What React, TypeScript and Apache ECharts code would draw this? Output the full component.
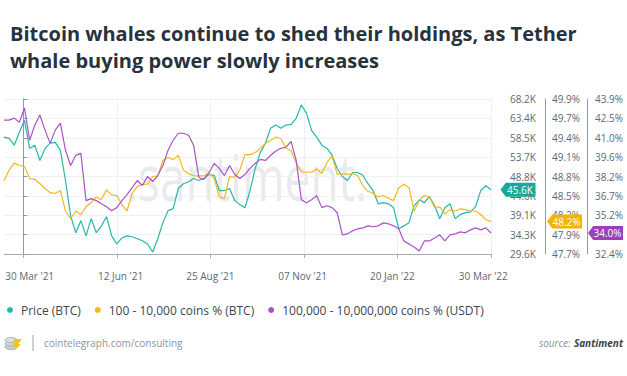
import React, { useEffect, useRef } from "react";
import * as echarts from "echarts";

// ---------- data ----------
// x positions are days since 30 Mar 2021
const FIRST_DAY = -15; // first sample (15 Mar 2021)
const STEP_DAYS = 4;
const LAST_DAY = 365; // 30 Mar 2022

const titleLines = [
  "Bitcoin whales continue to shed their holdings, as Tether",
  "whale buying power slowly increases",
];

const seriesNames = ["Price (BTC)", "100 - 10,000 coins % (BTC)", "100,000 - 10,000,000 coins % (USDT)"];

// BTC price, thousands of USD
const priceBTC = [
  58.7, 58.4, 56.7, 59.9, 62.9, 55.9, 56.7, 52.9, 55.9, 57.2,
  57.4, 55.4, 47.9, 39.1, 34.9, 37.9, 34.1, 38.4, 34.9, 36.6,
  38.9, 34.1, 32.1, 33.6, 34.1, 33.9, 33.4, 32.9, 32.1, 30.1,
  33.4, 37.4, 40.4, 40.9, 45.9, 47.1, 47.6, 48.4, 47.9, 48.4,
  49.4, 49.2, 45.4, 45.4, 45.9, 42.9, 41.9, 41.1, 45.4, 50.9,
  54.9, 57.2, 60.9, 61.7, 60.9, 61.7, 61.9, 63.4, 66.7, 64.7,
  60.4, 58.7, 56.7, 55.9, 54.2, 50.9, 48.9, 47.9, 49.9, 49.9,
  49.2, 47.1, 45.4, 42.1, 42.4, 42.1, 41.1, 35.9, 36.6, 37.4,
  41.6, 43.1, 42.4, 43.9, 41.6, 38.4, 41.1, 42.1, 38.4, 39.4,
  39.9, 40.1, 41.4, 45.4, 46.6, 45.6,
];

// 100 - 10,000 coins holders, % of BTC supply
const whalesBTC = [
  48.74, 48.89, 48.99, 48.96, 48.94, 48.77, 48.76, 48.70, 48.63, 48.57,
  48.56, 48.60, 48.31, 48.20, 48.31, 48.26, 48.37, 48.43, 48.51, 48.47,
  48.61, 48.54, 48.53, 48.40, 48.31, 48.56, 48.66, 48.69, 48.69, 48.80,
  48.81, 49.03, 49.07, 49.04, 49.10, 48.89, 48.84, 48.81, 48.81, 48.81,
  48.84, 48.77, 48.51, 48.49, 48.80, 48.79, 48.89, 49.11, 49.11, 49.14,
  49.20, 49.27, 49.31, 49.36, 49.34, 49.20, 49.17, 48.99, 48.87, 48.86,
  48.86, 48.91, 48.84, 49.00, 49.09, 48.83, 48.84, 48.83, 48.84, 48.81,
  48.67, 48.59, 48.56, 48.51, 48.53, 48.49, 48.46, 48.64, 48.69, 48.64,
  48.31, 48.46, 48.53, 48.51, 48.36, 48.37, 48.27, 48.33, 48.31, 48.34,
  48.33, 48.31, 48.31, 48.26, 48.19, 48.16,
];

// 100,000 - 10,000,000 coins holders, % of USDT supply
const whalesUSDT = [
  42.33, 42.33, 42.48, 42.18, 43.23, 40.84, 41.96, 42.71, 41.59, 40.61,
  41.59, 42.11, 40.09, 38.97, 39.72, 39.87, 36.36, 36.51, 36.36, 36.13,
  35.91, 35.61, 35.84, 36.36, 36.81, 37.33, 37.85, 37.48, 38.15, 37.78,
  38.22, 38.97, 40.09, 40.84, 41.36, 41.36, 41.21, 40.46, 38.08, 37.93,
  38.45, 39.12, 38.75, 38.22, 38.97, 38.30, 38.00, 38.30, 38.75, 39.12,
  39.42, 39.34, 39.72, 40.02, 40.24, 40.32, 40.76, 39.34, 36.43, 36.21,
  36.43, 36.73, 35.84, 35.98, 35.84, 35.46, 33.82, 33.89, 34.12, 34.27,
  34.34, 34.49, 34.42, 34.49, 34.71, 34.64, 34.49, 34.27, 33.37, 33.15,
  32.92, 32.62, 33.37, 33.37, 33.59, 33.82, 33.37, 33.82, 33.89, 34.04,
  33.97, 34.19, 34.34, 34.19, 34.34, 33.96,
];

// x axis
const xTickDays = [0, 73, 146, 219, 292, 365];
const xLabelDays = [5, 76, 146, 218, 288, 359];
const xTickLabels = ["30 Mar '21", "12 Jun '21", "25 Aug '21", "07 Nov '21", "20 Jan '22", "30 Mar '22"];

// y axes (bottom to top)
const priceRange = [29.6, 68.2];
const priceTickLabels = ["29.6K", "34.3K", "39.1K", "44.0K", "48.8K", "53.7K", "58.5K", "63.4K", "68.2K"];
const btcRange = [47.7, 49.9];
const btcTickLabels = ["47.7%", "47.9%", "48.2%", "48.5%", "48.8%", "49.1%", "49.4%", "49.7%", "49.9%"];
const usdtRange = [32.4, 43.9];
const usdtTickLabels = ["32.4%", "33.8%", "35.2%", "36.7%", "38.2%", "39.6%", "41.0%", "42.5%", "43.9%"];

// ---------- styling ----------
const TEAL = "#22b8aa";
const YELLOW = "#f5b821";
const PURPLE = "#ab52c9";
const TEAL_BADGE = "#17a99b";
const YELLOW_BADGE = "#f4b400";
const PURPLE_BADGE = "#9c3fbd";
const AXIS_LINE = "#8e9ba7";
const LABEL = "#5c6873";
const GRID = "#eef0f3";
const FONT = "Open Sans";

const sampleDay = (i: number) => FIRST_DAY + i * STEP_DAYS;

function ticksFor(range: number[], n: number) {
  const out: number[] = [];
  for (let k = 0; k < n; k++) {
    out.push(k === n - 1 ? range[1] : range[0] + (k * (range[1] - range[0])) / (n - 1));
  }
  return out;
}

function labelFor(range: number[], labels: string[]) {
  return (v: number) => {
    const idx = Math.round(((v - range[0]) / (range[1] - range[0])) * (labels.length - 1));
    return labels[idx] ?? "";
  };
}

const BADGE_PATH = "path://M0,7 L6,0 L40,0 L40,14 L6,14 Z";

function makeYAxis(range: number[], labels: string[], offset: number, margin: number, showTick: boolean, split: boolean) {
  const ticks = ticksFor(range, labels.length);
  return {
    type: "value",
    position: "right",
    min: range[0],
    max: range[1],
    offset,
    axisLine: { show: true, lineStyle: { color: AXIS_LINE, width: 1 } },
    axisTick: { show: showTick, customValues: ticks, length: 4, inside: false, lineStyle: { color: AXIS_LINE } },
    axisLabel: {
      show: true,
      customValues: ticks,
      formatter: labelFor(range, labels),
      margin,
      color: LABEL,
      fontSize: 10,
      fontFamily: FONT,
    },
    splitLine: { show: split, lineStyle: { color: GRID, width: 1 } },
  };
}

function lineSeries(name: string, values: number[], yAxisIndex: number, color: string, badgeColor: string, badgeOffset: number, suffix: string) {
  const last = values[values.length - 1];
  return {
    type: "line",
    name,
    yAxisIndex,
    data: values.map((v, i) => [sampleDay(i), v]),
    showSymbol: false,
    symbol: "circle",
    lineStyle: { width: 1.2, color },
    itemStyle: { color },
    emphasis: { disabled: true },
    markPoint: {
      silent: true,
      symbol: BADGE_PATH,
      symbolSize: [35, 14],
      symbolOffset: [badgeOffset, 0],
      itemStyle: { color: badgeColor },
      label: {
        show: true,
        position: "inside",
        offset: [2, 0],
        color: "#ffffff",
        fontSize: 10,
        fontFamily: FONT,
        formatter: () => last.toFixed(1) + suffix,
      },
      data: [{ coord: [sampleDay(values.length - 1), last], value: last }],
    },
  };
}

export default function App() {
  const ref = useRef<HTMLDivElement>(null);
  useEffect(() => {
    if (!ref.current) return;
    const chart = echarts.init(ref.current, null, { renderer: "svg" });
    const option: any = {
      animation: false,
      backgroundColor: "#ffffff",
      textStyle: { fontFamily: FONT },
      title: {
        text: titleLines.join("\n"),
        left: 5,
        top: 15,
        textStyle: { fontFamily: FONT, fontSize: 20, fontWeight: "bold", color: "#28323c", lineHeight: 27 },
      },
      legend: {
        left: 2,
        top: 299,
        icon: "circle",
        itemWidth: 12,
        itemHeight: 6,
        itemGap: 14,
        selectedMode: false,
        textStyle: { fontSize: 12, color: "#3c4752", fontFamily: FONT },
        data: seriesNames,
      },
      grid: { left: 4, right: 136, top: 99, bottom: 122, containLabel: false, outerBoundsMode: "none" },
      xAxis: {
        type: "value",
        min: FIRST_DAY,
        max: LAST_DAY,
        axisLine: { show: true, lineStyle: { color: "#a3adb7", width: 1 } },
        axisTick: { show: true, customValues: xTickDays, length: 4, lineStyle: { color: "#a3adb7" } },
        axisLabel: {
          customValues: xLabelDays,
          formatter: (v: number) => {
            let best = 0;
            xLabelDays.forEach((d, i) => {
              if (Math.abs(d - v) < Math.abs(xLabelDays[best] - v)) best = i;
            });
            return xTickLabels[best];
          },
          color: LABEL,
          fontSize: 10,
          fontFamily: FONT,
          margin: 17,
          hideOverlap: false,
        },
        splitLine: { show: true, lineStyle: { color: GRID, width: 1 } },
      },
      yAxis: [
        makeYAxis(priceRange, priceTickLabels, 0, 19, true, true),
        makeYAxis(btcRange, btcTickLabels, 54, 7, false, false),
        makeYAxis(usdtRange, usdtTickLabels, 96, 8, false, false),
      ],
      series: [
        lineSeries(seriesNames[0], priceBTC, 0, TEAL, TEAL_BADGE, 27, "K"),
        lineSeries(seriesNames[1], whalesBTC, 1, YELLOW, YELLOW_BADGE, 73.5, "%"),
        lineSeries(seriesNames[2], whalesUSDT, 2, PURPLE, PURPLE_BADGE, 114.5, "%"),
      ],
      graphic: [
        {
          type: "text",
          x: 126,
          y: 176,
          z: -10,
          silent: true,
          scaleX: 0.72,
          style: {
            text: ".santiment.",
            fontFamily: FONT,
            fontSize: 64,
            fill: "#e8eaed",
            verticalAlign: "middle",
            align: "left",
          },
        },
        {
          type: "group",
          x: 5,
          y: 336,
          silent: true,
          children: [
            { type: "ellipse", shape: { cx: 6, cy: 11, rx: 6, ry: 2.5 }, style: { fill: "#c9cdd2", stroke: "#9ea5ad", lineWidth: 0.8 } },
            { type: "ellipse", shape: { cx: 6, cy: 7.5, rx: 6, ry: 2.5 }, style: { fill: "#d3d7db", stroke: "#9ea5ad", lineWidth: 0.8 } },
            { type: "ellipse", shape: { cx: 6, cy: 4, rx: 6, ry: 2.5 }, style: { fill: "#dde0e3", stroke: "#9ea5ad", lineWidth: 0.8 } },
            { type: "polygon", shape: { points: [[9, 3], [17, 3], [13, 8], [16, 8], [9, 15], [11, 9], [8, 9]] }, style: { fill: "#f5c21b" } },
          ],
        },
        {
          type: "line",
          silent: true,
          shape: { x1: 33, y1: 335, x2: 33, y2: 351 },
          style: { stroke: "#9aa2aa", lineWidth: 1 },
        },
        {
          type: "text",
          x: 44,
          y: 343,
          silent: true,
          style: {
            text: "cointelegraph.com/consulting",
            fontFamily: FONT,
            fontSize: 10,
            fill: "#8b949c",
            verticalAlign: "middle",
          },
        },
        {
          type: "text",
          x: 623,
          y: 343,
          silent: true,
          style: {
            text: "{a|source:} {b|Santiment}",
            align: "right",
            verticalAlign: "middle",
            rich: {
              a: { fontFamily: FONT, fontSize: 10, fontStyle: "italic", fill: "#8b949c", color: "#8b949c" },
              b: { fontFamily: FONT, fontSize: 10, fontStyle: "italic", fontWeight: "bold", fill: "#3a434c", color: "#3a434c" },
            },
          },
        },
      ],
    };
    chart.setOption(option);
    return () => chart.dispose();
  }, []);
  return <div ref={ref} style={{ position: "absolute", left: 0, top: 0, width: 627, height: 376 }} />;
}
